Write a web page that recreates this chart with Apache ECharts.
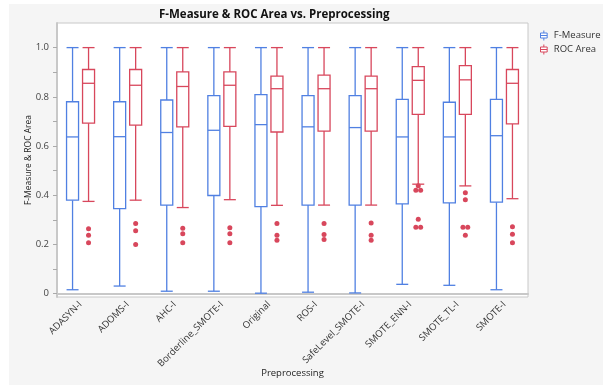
<!DOCTYPE html>
<html><head><meta charset="utf-8">
<script src="https://cdn.jsdelivr.net/npm/echarts@6/dist/echarts.min.js"></script>
<style>html,body{margin:0;padding:0;background:#fff}#c{width:603px;height:385px}</style>
</head><body><div id="c"></div>
<script>
const categories = ["ADASYN-I","ADOMS-I","AHC-I","Borderline_SMOTE-I","Original","ROS-I","SafeLevel_SMOTE-I","SMOTE_ENN-I","SMOTE_TL-I","SMOTE-I"];
// [min, Q1, median, Q3, max]
const fMeasure = [
  [0.016,0.380,0.637,0.780,1.0],
  [0.031,0.346,0.638,0.780,1.0],
  [0.010,0.360,0.655,0.787,1.0],
  [0.010,0.399,0.664,0.805,1.0],
  [0.002,0.354,0.687,0.809,1.0],
  [0.006,0.360,0.678,0.805,1.0],
  [0.003,0.360,0.675,0.805,1.0],
  [0.038,0.365,0.637,0.790,1.0],
  [0.034,0.369,0.637,0.778,1.0],
  [0.016,0.372,0.642,0.790,1.0]
];
const rocArea = [
  [0.375,0.693,0.855,0.911,1.0],
  [0.380,0.685,0.847,0.911,1.0],
  [0.350,0.678,0.842,0.901,1.0],
  [0.382,0.680,0.847,0.901,1.0],
  [0.359,0.657,0.833,0.884,1.0],
  [0.360,0.661,0.833,0.888,1.0],
  [0.360,0.661,0.833,0.884,1.0],
  [0.445,0.729,0.867,0.923,1.0],
  [0.438,0.729,0.869,0.927,1.0],
  [0.386,0.690,0.855,0.911,1.0]
];
const rocOutliers = [
  [0.264,0.237,0.207],
  [0.285,0.256,0.200],
  [0.266,0.244,0.207],
  [0.268,0.244,0.207],
  [0.285,0.237,0.217],
  [0.285,0.240,0.220],
  [0.287,0.237,0.217],
  [0.439,0.420,0.420,0.302,0.270,0.270],
  [0.410,0.382,0.270,0.270,0.237],
  [0.272,0.241,0.207]
];
const yLabelTicks = [0,0.2,0.4,0.6,0.8,1.0];
const yMinorTicks = [0,0.1,0.2,0.3,0.4,0.5,0.6,0.7,0.8,0.9,1.0];

const BLUE = '#5080e2', RED = '#d8475c';
const FONT = '"Open Sans", "Noto Sans", sans-serif';
const OFFSET = 8, HALF_W = 6;

function boxRenderer(color, offset) {
  return function (params, api) {
    const i = api.value(0);
    const x = api.coord([i, 0])[0] + offset;
    const y = v => api.coord([i, v])[1];
    const yMin = y(api.value(1)), yQ1 = y(api.value(2)), yMed = y(api.value(3)),
          yQ3 = y(api.value(4)), yMax = y(api.value(5));
    const ls = { stroke: color, lineWidth: 1.3, fill: null };
    return {
      type: 'group',
      children: [
        { type: 'line', shape: { x1: x, y1: yQ3, x2: x, y2: yMax }, style: ls },
        { type: 'line', shape: { x1: x - HALF_W, y1: yMax, x2: x + HALF_W, y2: yMax }, style: ls },
        { type: 'line', shape: { x1: x, y1: yQ1, x2: x, y2: yMin }, style: ls },
        { type: 'line', shape: { x1: x - HALF_W, y1: yMin, x2: x + HALF_W, y2: yMin }, style: ls },
        { type: 'rect', shape: { x: x - HALF_W, y: yQ3, width: 2 * HALF_W, height: yQ1 - yQ3 },
          style: { stroke: color, lineWidth: 1.3, fill: '#fff' } },
        { type: 'line', shape: { x1: x - HALF_W, y1: yMed, x2: x + HALF_W, y2: yMed }, style: ls }
      ]
    };
  };
}

const fData = fMeasure.map((d, i) => [i].concat(d));
const rData = rocArea.map((d, i) => [i].concat(d));

// outlier points; duplicated values get a small horizontal jitter
const outPts = [];
rocOutliers.forEach((arr, i) => {
  const counts = {};
  arr.forEach(v => { counts[v] = (counts[v] || 0) + 1; });
  const seen = {};
  arr.forEach(v => {
    const n = counts[v], k = (seen[v] = (seen[v] || 0) + 1) - 1;
    const jit = n > 1 ? (k - (n - 1) / 2) * 4.8 : 0;
    outPts.push({ value: [i, v], symbolOffset: [OFFSET + jit, 0] });
  });
});

const ICON = 'path://M5,0V3M1,3H9V9H1ZM1,6H9M5,9V12';
const chart = echarts.init(document.getElementById('c'), null, { renderer: 'canvas' });
chart.setOption({
  animation: false,
  backgroundColor: '#fff',
  textStyle: { fontFamily: FONT },
  graphic: [{ type: 'rect', z: -10, silent: true, shape: { x: 9, y: 4, width: 600, height: 390 }, style: { fill: '#f5f5f5' } }],
  title: {
    text: 'F-Measure & ROC Area vs. Preprocessing',
    left: 154, top: 4,
    textStyle: { fontFamily: FONT, fontSize: 11.5, fontWeight: 'bold', color: '#111' }
  },
  legend: {
    orient: 'vertical', left: 535, top: 25, itemGap: 3,
    itemWidth: 10, itemHeight: 10,
    textStyle: { fontFamily: FONT, fontSize: 9.5, color: '#333' },
    data: [
      { name: 'F-Measure', icon: ICON, itemStyle: { color: '#fff', borderColor: BLUE, borderWidth: 1 } },
      { name: 'ROC Area', icon: ICON, itemStyle: { color: '#fff', borderColor: RED, borderWidth: 1 } }
    ]
  },
  grid: { left: 57, right: 75, top: 23, bottom: 88, outerBoundsMode: 'none', containLabel: false,
          show: true, backgroundColor: '#fff', borderColor: '#c8c8c8', borderWidth: 1 },
  xAxis: {
    type: 'category', data: categories,
    name: 'Preprocessing', nameLocation: 'middle', nameGap: 71, nameMoveOverlap: false,
    nameTextStyle: { fontFamily: FONT, fontSize: 9.5, color: '#222' },
    axisLine: { lineStyle: { color: '#c8c8c8', width: 2 } },
    axisTick: { show: false },
    axisLabel: { rotate: 45, fontSize: 9.5, color: '#333', margin: 6, interval: 0 },
    splitLine: { show: false }
  },
  yAxis: {
    type: 'value', min: -0.0135, max: 1.1,
    name: 'F-Measure & ROC Area', nameLocation: 'middle', nameGap: 24, nameMoveOverlap: false,
    nameTextStyle: { fontFamily: FONT, fontSize: 8.5, color: '#222' },
    axisLine: { show: true, lineStyle: { color: '#c8c8c8', width: 2 } },
    axisTick: { show: true, length: 4, customValues: yMinorTicks, lineStyle: { color: '#aaa' } },
    axisLabel: { customValues: yLabelTicks, fontSize: 9.5, color: '#444', margin: 8, formatter: v => v === 0 ? '0' : v.toFixed(1) },
    splitLine: { show: false }
  },
  series: [
    { name: 'F-Measure', type: 'custom', data: fData, renderItem: boxRenderer(BLUE, -OFFSET),
      itemStyle: { color: BLUE }, encode: { x: 0, y: [1, 2, 3, 4, 5] } },
    { name: 'ROC Area', type: 'custom', data: rData, renderItem: boxRenderer(RED, OFFSET),
      itemStyle: { color: RED }, encode: { x: 0, y: [1, 2, 3, 4, 5] } },
    { name: 'ROC Area', type: 'scatter', data: outPts, symbolSize: 5,
      itemStyle: { color: RED, opacity: 1 } }
  ]
});
</script></body></html>
